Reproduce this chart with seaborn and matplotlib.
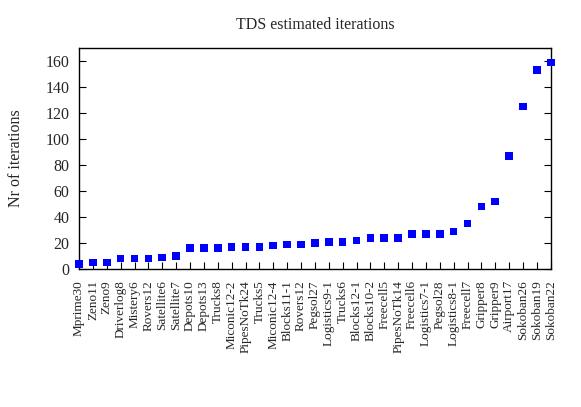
import matplotlib
matplotlib.use("Agg")
import matplotlib.pyplot as plt
import seaborn as sns
import pandas as pd

problems = ["Mprime30", "Zeno11", "Zeno9", "Driverlog8", "Mistery6", "Rovers12",
            "Satellite6", "Satellite7", "Depots10", "Depots13", "Trucks8",
            "Miconic12-2", "PipesNoTk24", "Trucks5", "Miconic12-4", "Blocks11-1",
            "Rovers12", "Pegsol27", "Logistics9-1", "Trucks6", "Blocks12-1",
            "Blocks10-2", "Freecell5", "PipesNoTk14", "Freecell6", "Logistics7-1",
            "Pegsol28", "Logistics8-1", "Freecell7", "Gripper8", "Gripper9",
            "Airport17", "Sokoban26", "Sokoban19", "Sokoban22"]
iterations = [4, 5, 5, 8, 8, 8, 9, 10, 16, 16, 16, 17, 17, 17, 18, 19, 19, 20,
              21, 21, 22, 24, 24, 24, 27, 27, 27, 29, 35, 48, 52, 87, 125, 153, 159]
yticks = [0, 20, 40, 60, 80, 100, 120, 140, 160]

sns.set_style("ticks")
plt.rcParams['font.family'] = ['Liberation Serif', 'DejaVu Serif']

df = pd.DataFrame({"pos": range(len(problems)), "iters": iterations})

fig = plt.figure(figsize=(5.81, 4.07), dpi=100)
ax = fig.add_axes([0.136, 0.339, 0.812, 0.543])
sns.scatterplot(data=df, x="pos", y="iters", marker="s", s=30, color="#0000ff",
                edgecolor="none", linewidth=0, ax=ax, clip_on=False, zorder=3)

ax.set_xlim(0, len(problems) - 1)
ax.set_ylim(0, 170)
ax.set_xticks(range(len(problems)))
ax.set_xticklabels(problems, rotation=90, fontsize=9.5, va="top")
ax.set_yticks(yticks)
ax.set_yticklabels([str(v) for v in yticks], fontsize=11.5)
ax.tick_params(axis="both", direction="in", length=5, width=0.8, color="black")
ax.tick_params(axis="y", right=True, pad=7)
ax.tick_params(axis="x", pad=8)
for sp in ax.spines.values():
    sp.set_visible(True)
    sp.set_color("black")
    sp.set_linewidth(1.0)

ax.set_xlabel("")
ax.set_ylabel("Nr of iterations", fontsize=11.5, labelpad=15)
ax.set_title("TDS estimated iterations", fontsize=11.5, pad=14)

fig.savefig("out.png", dpi=100)
